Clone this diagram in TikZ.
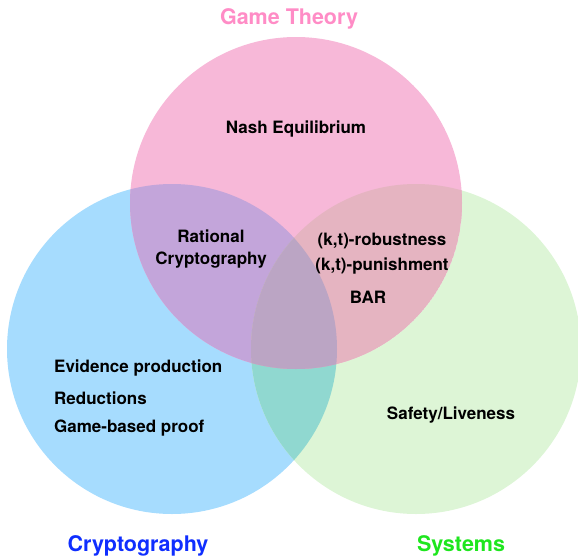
\documentclass[tikz,border=0pt]{standalone}
\usepackage{fontspec}
\setmainfont{TeX Gyre Heros}
\usetikzlibrary{positioning}

\definecolor{gamepink}{HTML}{F7B8D8}
\definecolor{cryptoblue}{HTML}{A6DCFE}
\definecolor{sysgreen}{HTML}{DDF5D6}
\definecolor{gcmix}{HTML}{C3A5DA}
\definecolor{gsmix}{HTML}{E5B4C1}
\definecolor{csmix}{HTML}{90D8D0}
\definecolor{allmix}{HTML}{BBA5C4}
\definecolor{gamettl}{HTML}{FF8CC6}
\definecolor{cryptottl}{HTML}{0F2EFF}
\definecolor{systtl}{HTML}{1EE61E}

\begin{document}
\begin{tikzpicture}[x=1pt, y=-1pt,
    lbl/.style={font=\fontsize{17}{22}\selectfont\bfseries, inner sep=0pt},
    ttl/.style={font=\fontsize{21.5}{24}\selectfont\bfseries, inner sep=0pt}]
        \useasboundingbox (0,0) rectangle (578,557);
        \coordinate (G) at (296,203);
        \coordinate (C) at (172,349);
        \coordinate (S) at (416,349);
        % circles
        \fill[cryptoblue] (C) circle (165pt);
        \fill[sysgreen] (S) circle (165pt);
        \fill[gamepink] (G) circle (166pt);
        % overlaps
        \begin{scope}
        \clip (C) circle (165pt);
        \fill[gcmix] (G) circle (166pt);
        \fill[csmix] (S) circle (165pt);
        \clip (S) circle (165pt);
        \fill[allmix] (G) circle (166pt);
        \end{scope}
        \begin{scope}
        \clip (S) circle (165pt);
        \clip (G) circle (166pt);
        \fill[gsmix] (G) circle (166pt);
        \clip (C) circle (165pt);
        \fill[allmix] (G) circle (166pt);
        \end{scope}
        % titles
        \node[ttl, text=gamettl] (gameT) at (289,19) {Game Theory};
        \node[ttl, text=cryptottl] (cryptoT) at (138,546) {Cryptography};
        \node[ttl, text=systtl] (sysT) at (461,546) {Systems};
        % labels
        \node[lbl] (nash) at (296,129) {Nash Equilibrium};
        \node[lbl, align=center] (rational) at (211,249) {Rational\\Cryptography};
        \node[lbl] (robust) at (382,241) {(k,t)-robustness};
        \node[lbl] (punish) at (382,266) {(k,t)-punishment};
        \node[lbl] (bar) at (368,297) {BAR};
        \node[lbl, anchor=west] (evidence) at (54,368) {Evidence production};
        \node[lbl, anchor=west] (reduct) at (54,398) {Reductions};
        \node[lbl, anchor=west] (gameproof) at (54,428) {Game-based proof};
        \node[lbl] (safety) at (451,415) {Safety/Liveness};
    \end{tikzpicture}
\end{document}
